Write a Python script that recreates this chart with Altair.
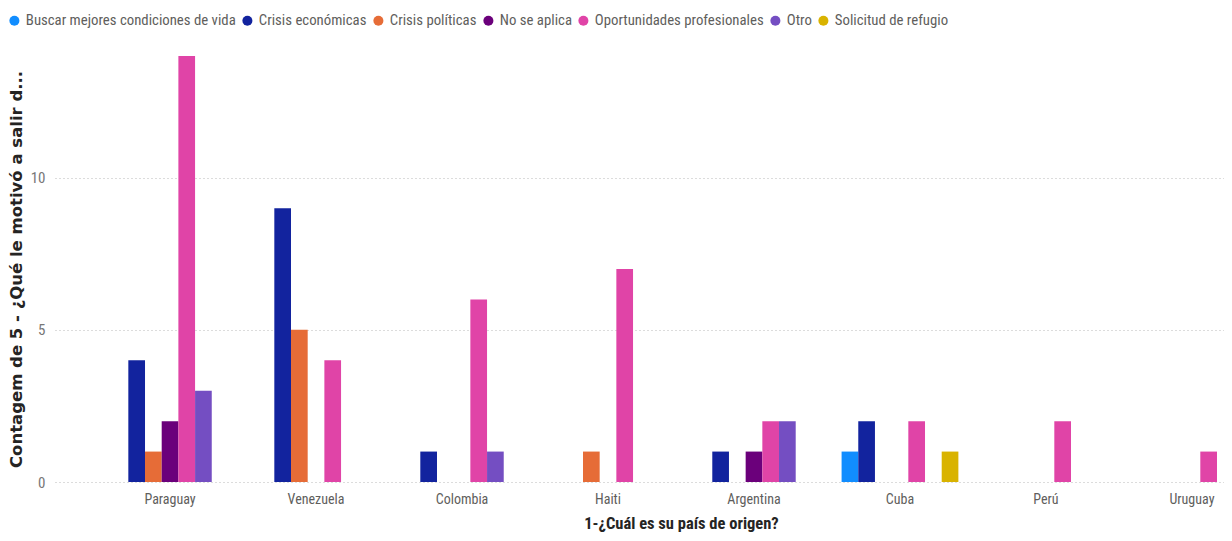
import altair as alt
import pandas as pd

countries = ["Paraguay", "Venezuela", "Colombia", "Haiti", "Argentina", "Cuba", "Perú", "Uruguay"]
cats = ["Buscar mejores condiciones de vida", "Crisis económicas", "Crisis políticas",
        "No se aplica", "Oportunidades profesionales", "Otro", "Solicitud de refugio"]
colors = ["#118DFF", "#12239E", "#E66C37", "#6B007B", "#E044A7", "#744EC2", "#D9B300"]

buscar = [0, 0, 0, 0, 0, 1, 0, 0]
crisis_eco = [4, 9, 1, 0, 1, 2, 0, 0]
crisis_pol = [1, 5, 0, 1, 0, 0, 0, 0]
no_aplica = [2, 0, 0, 0, 1, 0, 0, 0]
oportunidades = [14, 4, 6, 7, 2, 2, 2, 1]
otro = [3, 0, 1, 0, 2, 0, 0, 0]
solicitud = [0, 0, 0, 0, 0, 1, 0, 0]

series = [buscar, crisis_eco, crisis_pol, no_aplica, oportunidades, otro, solicitud]
rows = []
for cat, vals in zip(cats, series):
    for c, v in zip(countries, vals):
        if v > 0:
            rows.append({"pais": c, "motivo": cat, "n": v})
df = pd.DataFrame(rows)

NARROW = "Liberation Sans Narrow, Arial Narrow, Roboto Condensed, sans-serif"

chart = alt.Chart(df).mark_bar(clip=True).encode(
    x=alt.X("pais:N",
            scale=alt.Scale(domain=countries, range=[0, 1252], paddingInner=0.2, paddingOuter=0.388),
            axis=alt.Axis(title="1-¿Cuál es su país de origen?", labelAngle=0, ticks=False, domain=False,
                          labelFont=NARROW, labelFontSize=14, labelColor="#605E5C", labelPadding=10,
                          titleFont=NARROW, titleFontSize=16.5, titleFontWeight="bold", titleColor="#252423",
                          titleX=626, titlePadding=9, labelOverlap=False)),
    xOffset=alt.XOffset("motivo:N", scale=alt.Scale(domain=cats, paddingInner=0, paddingOuter=0)),
    y=alt.Y("n:Q", scale=alt.Scale(domain=[0, 14], nice=False),
            axis=alt.Axis(title="Contagem de 5 - ¿Qué le motivó a salir d...", values=[0, 5, 10],
                          ticks=False, domain=False, grid=True, gridColor="#B8B8B8", gridDash=[1, 3],
                          gridWidth=1, labelFont=NARROW, labelFontSize=15, labelColor="#777777",
                          labelPadding=10, titleFont="DejaVu Sans", titleFontSize=16.5,
                          titleFontWeight="bold", titleColor="#252423", titlePadding=6)),
    color=alt.Color("motivo:N", scale=alt.Scale(domain=cats, range=colors),
                    legend=alt.Legend(title=None, orient="none", direction="horizontal",
                                      legendX=-48, legendY=-43, symbolType="circle", symbolSize=100,
                                      symbolStrokeWidth=0, labelFont=NARROW, labelFontSize=14.8,
                                      labelColor="#605E5C", labelOffset=4, columnPadding=4,
                                      labelLimit=400)),
).properties(
    width=1167, height=426,
    autosize=alt.AutoSizeParams(type="none"),
    padding={"left": 47, "top": 48, "right": 2, "bottom": 50},
).configure_view(stroke=None)

chart.save("out.html", embed_options={"renderer": "svg", "actions": False})
